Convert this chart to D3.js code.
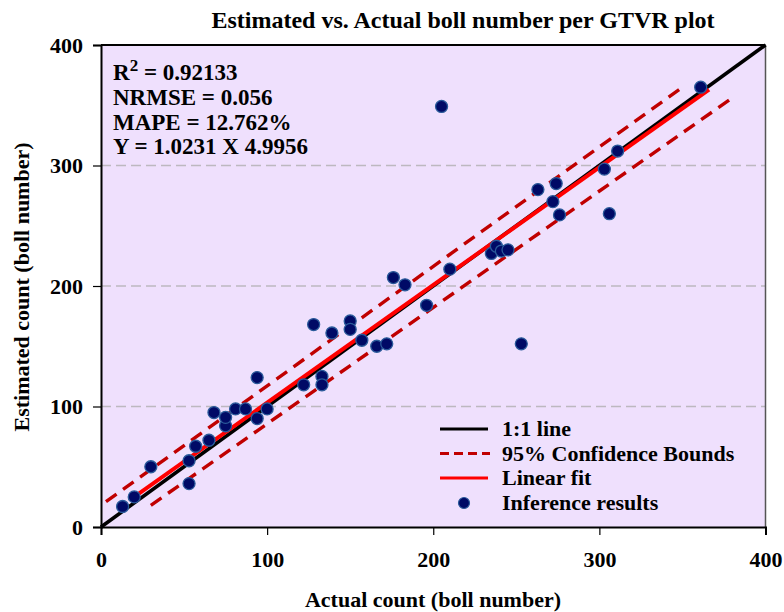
<!DOCTYPE html>
<html>
<head>
<meta charset="utf-8">
<script src="https://cdn.jsdelivr.net/npm/d3@7"></script>
<style>
  body { margin: 0; background: #fff; }
  svg text { font-family: "Liberation Serif", "Times New Roman", serif; font-weight: bold; fill: #000; }
</style>
</head>
<body>
<svg id="chart" width="784" height="612"></svg>
<script>
// data
var actual    = [13, 20, 30, 53, 53, 57, 65, 68, 75, 75, 81, 87, 94, 94, 100, 122, 128, 133, 133,
                 139, 150, 150, 157, 166, 172, 176, 183, 196, 205, 210,
                 235, 238, 241, 245, 253, 263, 272, 274, 276, 303, 306, 311, 361];
var estimated = [17, 25, 50, 36, 55, 67, 72, 95, 84, 91, 98, 98, 124, 90, 98, 118, 168, 125, 118,
                 161, 171, 164, 155, 150, 152, 207, 201, 184, 349, 214,
                 227, 233, 229, 230, 152, 280, 270, 285, 259, 297, 260, 312, 365];

var oneToOne  = [[0, 0], [400, 400]];
var fitLine   = [[20, 25], [366, 363]];
var upperBand = [[3, 21], [348, 363]];
var lowerBand = [[30, 18], [382, 358]];

var ticks = [0, 100, 200, 300, 400];
var gridTicks = [100, 200, 300];

var statLines = ["NRMSE = 0.056", "MAPE = 12.762%", "Y = 1.0231 X 4.9956"];
var legendItems = ["1:1 line", "95% Confidence Bounds", "Linear fit", "Inference results"];

var svg = d3.select("#chart");
var pL = 101, pR = 765.5, pT = 45, pB = 527;

var x = d3.scaleLinear().domain([0, 400]).range([pL, pR]);
var y = d3.scaleLinear().domain([0, 400]).range([pB, pT]);

// plot background
svg.append("rect")
  .attr("x", pL).attr("y", pT)
  .attr("width", pR - pL).attr("height", pB - pT)
  .attr("fill", "#efe0fd");

// grid
svg.selectAll(".grid").data(gridTicks).enter().append("line")
  .attr("x1", pL).attr("x2", pR)
  .attr("y1", function(d) { return y(d); }).attr("y2", function(d) { return y(d); })
  .attr("stroke", "#bdb8c0").attr("stroke-width", 1.3)
  .attr("stroke-dasharray", "10,5");

// frame top / right
svg.append("line").attr("x1", pL).attr("x2", pR).attr("y1", pT).attr("y2", pT)
  .attr("stroke", "#000").attr("stroke-width", 2);
svg.append("line").attr("x1", pR).attr("x2", pR).attr("y1", pT).attr("y2", pB)
  .attr("stroke", "#555").attr("stroke-width", 1.5);

// axes
var xAxis = svg.append("g").attr("transform", "translate(0," + pB + ")")
  .call(d3.axisBottom(x).tickValues(ticks).tickSize(8).tickPadding(16));
var yAxis = svg.append("g").attr("transform", "translate(" + pL + ",0)")
  .call(d3.axisLeft(y).tickValues(ticks).tickSize(8).tickPadding(10));
[xAxis, yAxis].forEach(function(a) {
  a.select(".domain").attr("stroke", "#000").attr("stroke-width", 2);
  a.selectAll(".tick line").attr("stroke", "#000").attr("stroke-width", 1.2);
  a.selectAll(".tick text").style("font-size", "22px")
    .style("font-family", "'Liberation Serif', serif").style("font-weight", "bold");
});

var line = d3.line().x(function(d) { return x(d[0]); }).y(function(d) { return y(d[1]); });

svg.append("path").datum(oneToOne).attr("d", line)
  .attr("stroke", "#000").attr("stroke-width", 3.6).attr("fill", "none");
svg.append("path").datum(upperBand).attr("d", line)
  .attr("stroke", "#c00000").attr("stroke-width", 3.4).attr("fill", "none")
  .attr("stroke-dasharray", "13,8");
svg.append("path").datum(lowerBand).attr("d", line)
  .attr("stroke", "#c00000").attr("stroke-width", 3.4).attr("fill", "none")
  .attr("stroke-dasharray", "13,8");
svg.append("path").datum(fitLine).attr("d", line)
  .attr("stroke", "#ff0000").attr("stroke-width", 4).attr("fill", "none");

// points
svg.selectAll(".pt").data(actual).enter().append("circle")
  .attr("cx", function(d) { return x(d); })
  .attr("cy", function(d, i) { return y(estimated[i]); })
  .attr("r", 6)
  .attr("fill", "#000a66").attr("stroke", "#2a5a9a").attr("stroke-width", 1.3);

// title and axis titles
svg.append("text").attr("x", 463).attr("y", 28).attr("text-anchor", "middle")
  .style("font-size", "24px").text("Estimated vs. Actual boll number per GTVR plot");
svg.append("text").attr("x", 433).attr("y", 607).attr("text-anchor", "middle")
  .style("font-size", "22px").text("Actual count (boll number)");
svg.append("text").attr("transform", "translate(29,287) rotate(-90)").attr("text-anchor", "middle")
  .style("font-size", "22px").text("Estimated count (boll number)");

// stats
var r2 = svg.append("text").attr("x", 113).attr("y", 80).style("font-size", "23px");
r2.append("tspan").text("R");
r2.append("tspan").attr("dy", -9).style("font-size", "17px").text("2");
r2.append("tspan").attr("dy", 9).text(" = 0.92133");
svg.selectAll(".stat").data(statLines).enter().append("text")
  .attr("x", 113).attr("y", function(d, i) { return 105 + i * 24.5; })
  .style("font-size", "23px").text(function(d) { return d; });

// legend
var legY = [429, 453.5, 478, 503];
var lg = svg.append("g");
lg.append("line").attr("x1", 440).attr("x2", 488).attr("y1", legY[0]).attr("y2", legY[0])
  .attr("stroke", "#000").attr("stroke-width", 3);
lg.append("line").attr("x1", 440).attr("x2", 490).attr("y1", legY[1]).attr("y2", legY[1])
  .attr("stroke", "#c00000").attr("stroke-width", 3).attr("stroke-dasharray", "9,5");
lg.append("line").attr("x1", 440).attr("x2", 488).attr("y1", legY[2]).attr("y2", legY[2])
  .attr("stroke", "#ff0000").attr("stroke-width", 3);
lg.append("circle").attr("cx", 464).attr("cy", legY[3]).attr("r", 5.5)
  .attr("fill", "#000a66").attr("stroke", "#2a5a9a").attr("stroke-width", 1.2);
lg.selectAll("text").data(legendItems).enter().append("text")
  .attr("x", 502).attr("y", function(d, i) { return legY[i] + 7; })
  .style("font-size", "22px").text(function(d) { return d; });
</script>
</body>
</html>
